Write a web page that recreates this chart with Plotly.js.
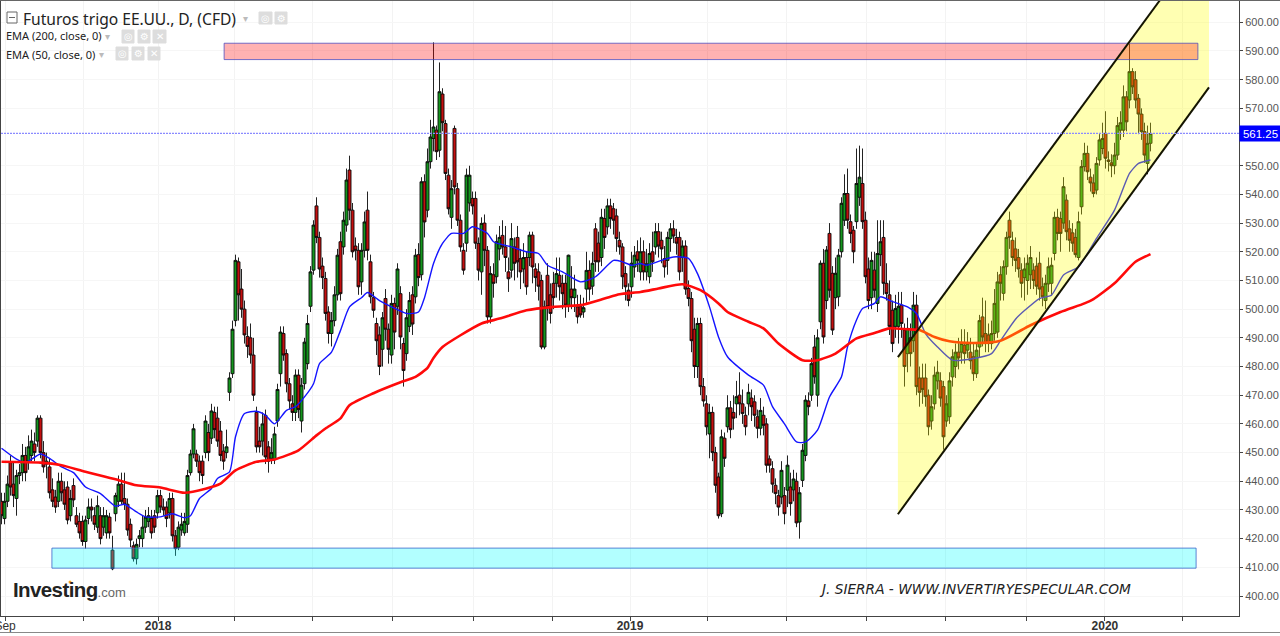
<!DOCTYPE html>
<html><head><meta charset="utf-8">
<script src="https://cdn.plot.ly/plotly-3.0.1.min.js"></script>
<style>html,body{margin:0;padding:0;background:#fff;overflow:hidden}#c{width:1280px;height:636px}</style>
</head><body><div id="c"></div>
<script>
const opens=[
433,427,433,446.5,439,434,442,443,449,447,
449,453,454,462,450,446,445,437,434.5,433,
440,437,438,428,438.5,428,426,426,419,427,
431,428,424,428,424,422,427.5,416,428.7,433,
439,434,432,425,417.5,413,420,420,424,426,
427,428,429,435,431,431,429,434,421,417,
423,422,425,443,449.5,449.5,447,447,450,457,
455,464,462,457.5,450.5,450,471,477.5,496,516.5,
507,500,490.5,490,484,464,454,454,463,452,
448,447.5,461,477.5,491.5,484.5,474,467,464,477,
461,474,481,501,513.6,536,525,515,510.7,499,
491.5,496,505,523.5,521.7,529.3,548.5,534.5,522,520.5,
509.5,520.5,534.5,516.5,504,495,491,486,503.7,493,
484,502,501,505.4,488,484.5,494,505,504.3,519,
512,544.4,534.5,551.4,559.5,562.4,555.4,575,564.7,546.7,
532,563,542,531,520.5,523,537,538.6,538.6,522.9,
513,530,520.5,497.3,512,511.3,521,525.7,521.7,513,
513.6,521.7,525,517.6,514,518,518,525.8,514,513,
510,486.8,511.8,505,509,509,511.8,509,509,501.4,
507,504,500.8,501,499,507,513.5,508,528,523,
518,531.6,528.7,536,535,532.5,524,521.7,512.4,506.6,
507.8,514.7,520,513,520,513,511.3,520,521.7,527,
524,517.6,517,524.6,528,525,525,518,522,507.2,
503.7,493,480,495,473,467,456.5,464,450,441.5,
428.7,455,459,465.6,464,467,470,467,463,467,
469,467.7,462.5,458.5,463,460,447.8,444.4,438.6,435,
434.5,435,436.9,438,437,440,425.8,440.3,449,468,
470,486.8,470,495.6,516,503,526.4,512.5,504,504.3,
520,531,540.3,530.5,527.5,530.5,539,543.8,531,514,
504,513.6,502,519,525,509,505,499.6,494,494,
501.4,492.7,484.5,490,489,501.4,476,476,476,470,
461,467,475,475,473,461,462.5,476.4,480,485,
485,487.4,485.7,485,483.4,477.5,486.8,497.3,491.5,491,
488,491.5,492,512,505.5,514.8,531,524,521,518,
513.6,511,510,512,513.6,515,516,507.8,503,508.8,
509,519.4,532,531.6,530,538,528,526.6,525,518,
535.7,549.7,554.3,546,544,541.5,552,556,561.3,552,
551,550,553.7,562.4,562.4,574,572.9,582.8,580,573.5,
568,561.9,550.8,557.8];
const closes=[
428,433,439,438,435,442,443,449,443,452,
454,450,462,450,445,447,436,433,431,440,
436,432,426.5,434,433.5,425,422,419,426.5,431,
430,425,431.5,420,428,428,422,409.5,435,439,
433,432,423,419.5,413,418,421,424,427.5,428,
422,424,435,431,430,427,434,421,416.5,424,
425,426,442,449.5,458.3,447,443,442,461,450,
464.5,458,454,449,447,452,476,493,517,505,
500,491,487,484,470,452,452,460,448.5,447,
450,456.5,472,492,484,474,468,464,477,465,
473.5,488.5,495,513,529.3,525,514,511,498.5,491.5,
496,505,518.8,505.4,531,545,534.5,520,520.5,507.8,
520.5,530.4,520.5,504.3,499.6,489,480,497,493,486,
502,492,514,490.3,478.6,497,503,494.8,518.8,511,
544.4,530.4,551.4,560,563.5,554.9,575.8,565,547.3,535,
542,542.6,531,521.7,513.6,546.7,546.7,536,523,513.6,
529.9,520.5,497.3,512.4,509,523.5,525,521.7,518,510.6,
524.6,516,516.5,513,518,507.8,525.8,514.7,511,508,
486.8,500.8,500.8,498.5,504,512.4,507.8,505.4,501.4,518.8,
504,507,497.3,498,500.5,513.5,507,516,516.5,516.5,
532,525,536,531.6,531,524.6,521.7,511.3,507.8,503,
516,518.8,517,520,513,515.8,519.4,516.5,527,522,
521,514.7,525,528,525.5,523,513,522,507,503.7,
489,480,495,473,468,459,464,450,438.6,428,
455.5,448,465.6,458,462,469.5,467,463.6,459,471,
466,463,458.5,464.7,459.5,445.6,445.6,439,435.7,431,
443.8,428.7,445.6,432.2,440.8,425.5,436,450.8,468.3,466,
481,476.4,490,516,490.3,520.6,506.6,492.7,512.5,518.8,
536.9,540.3,531,526.4,520,543.8,546,530.5,511.3,503,
517,506.6,519.4,523.5,509,505.4,494,488,500.2,501,
495,480,493.3,484.5,501.4,473,471,472,469.5,459,
466,477,478,469,455.5,467,475,483.4,485,483,
488,484.5,488,482,477.5,485.7,496,490.3,488,488,
491.5,502,509.5,509,514.8,525,525,518,517,514,
509,514,516,518,510,508,507,504.3,509,514.8,
515.3,532,526.4,526.4,542.7,527,524,523,519,530.5,
549.7,554.3,547.9,544,540.3,550.8,559,559.5,552.6,551.5,
550,553.7,564,565,574,565.3,582.8,577.5,572.9,568,
561.9,553.7,557.8,561.25];
const highs=[
436,436,442,449,447,444,446,453,452,456,
458,457,463,463,454,450,448,441,437,443,
443,440,440,437,441,431,429,428,428,434,
434,431,435,431,431,430,429,421,436,442,
443,443,434,427,419,420,423,428,430,431,
430,430,437,437,434,433,436,436,423,426,
429,429,444,451,460,451,449,449,463,460,
467,466,466,461,453,458,478,496,519,518,
514,503,494,495,490,466,459,464,465,454,
455,459,474,494,494,486,476,470,479,479,
476,490,498,515,531,539,527,518,513,501,
499,508,521,527,534,549,553.5,537,525,523,
523,534,541,519,506,497,494,499,507,495,
505,504,516,508,490,500,506,508,521,523,
546,547,556,566,593,564,586,577,566,549,
545,564,544,533,523,549,550,541,541,525,
532,533,522,515,516,526,529,531,529,518,
530,525,529,521,523,520,527,527,516,516,
512,503,516,509,513,518,518,512,512,519,
515,512,505,505,504,520,517,520,530,527,
535,535,538.5,538.5,537,535,527,523,515,509,
520,522,524,525,524,521,523,527,530,530,
527,522,527,530,531,528,527,524,524,510,
506,497,497,497,476,470,467,466,452,443,
458,457,470,468,470,475,478,472,466,474,
472,470,465,469,466,462,449,447,441,437,
447,438,449,443,444,443,438,453,470,471,
483,491,493,517,521,522,530,515,518,521,
539,547,549,533,529,556,557,556,534,518,
520,520,531,531,531,516,510,503,505,506,
506,495,497,495,506,505,480,481,481,472,
470,480,482,478,475,470,478,486,488,490,
493,493,492,490,488,488,498,504,503,495,
496,507,513,515,517,527,534,527,525,521,
516,518,519,522,516,518,520,511,512,518,
518,534,535,534,546,540,531,530,528,534,
552,558,557,549,547,553,561,565,569,555,
554,558,567,569,578,576,592.5,584,583,575,
570,565,564,565];
const lows=[
425,425,431,435,431,428,439,440,440,444,
447,447,452,448,443,441,434,431,429,431,
433,430,425,426,431,424,420,417.5,416.5,425,
426,423,422,418,421,420,420,409,426,431,
432,430,421,417,412,411,417,417,422,424,
420,422,427,429,428,424,427,419,414,416,
421,421,422,442,448,445,440,439,448,447,
453,455,452,447,444,448,468,476,494,496,
497,488,483,481,468,450,450,449,446,443,
446,446,459,473,482,471,465,461,461,462,
457,472,479,499,512,523,511,507,496,488,
487,494,503,503,519,527,531,518,517,505,
505,518,517,502,497,484,477,480,489,481,
481,486,498,486,473,482,492,491,502,508,
510,525,532,549,555,552,553,562,545,533,
528,540,529,520,512,520,534,533,521,510,
505,515,495,495,504,509,517,519,513,506,
511,510,511,507,509,505,515,509,506,503,
486,486,496,495,500,504,503,500,497,499,
500,499,495,497,497,502,503,505,513,513,
515,521,526,528,526,520,519,507,503,501,
504,511,513,510,510,510,509,513,519,518,
516,511,512,520,523,519,510,513,505,501,
485,476,476,470,466,456,448,447,436,427,
427.5,445,457,455,458,462,463,460,456,463,
461,459,455,456,456,443,443,436,432,428,
432,425,431,428,433,424,420,438,447,463,
468,474,466,493,488,500,504,491,500,501,
518,529,528,523,516,528,536,528,509,500,
500,504,499,515,505,503,491,485,490,488,
490,473,478,480,485,470,466,467,466,456,
458,465,472,466,451,459,460,473,476,479,
481,481,483,479,475,476,483,487,485,485,
486,489,490,503,503,512,521,515,513,511,
504,503,505,507,507,505,503,501,500,506,
505,517,524,520,528,524,520,520,518,517,
533,548,545,541,539,540,550,554,549,548,
546,547,552,559,560,562,570,575,570,561,
559,551,547,555];

const ema50Bars=[0,5,8,13,16,20,24,28,33,38,41,45,48,53,57,61,63,66,70,72,76,78,81,85,88,91,95,98,101,104,106,110,113,116,120,122,126,130,135,139,141,144,147,150,154,157,162,164,170,175,179,182,187,193,198,204,207,210,213,215,220,224,229,232,236,239,242,249,254,257,261,265,268,272,276,280,282,285,287,291,293,297,302,305,308,312,317,324,330,333,338,341,346,350,354,359,365,371,376,379,383];
const ema50=[451.5,447.7,446.5,449.5,448,445,443,438,435.7,431.3,432,429.3,427.6,427.6,428.7,427.3,428,434,437.5,441,443.3,455.5,463.6,464.4,463,460,464.7,466,469.4,474,481,485,492.6,500.8,504,505.8,503,500.8,498.5,499,504,515.9,522.9,526.4,526.4,528.7,526.4,523.5,521.7,520,519.4,515.3,513,509.5,511.3,517,516.5,515.3,515.9,515.3,517,518.2,517.7,512.4,500.8,490.3,483.4,477,473.5,466,460,453.7,453.7,457.8,469.4,476.4,486.8,496.2,500.2,502,504.3,502.6,500.8,498.5,491.5,486.8,482.2,482.8,484.5,489,496.5,499.5,503.7,504.9,511.9,514.8,524.7,534.5,547.3,550.8,552];
const ema200Bars=[0,13,20,28,38,45,53,61,68,73,78,85,91,99,105,108,113,116,124,133,138,142,144,147,153,160,166,175,184,193,201,206,213,219,227,233,239,242,249,254,259,267,272,278,285,291,296,302,306,311,316,324,333,343,353,361,364,371,378,383];
const ema200=[446.8,446.5,445.6,443.3,440.7,438.6,437.8,436,437.4,439.2,443.8,446.8,447.6,450.8,456,458.4,461.9,466.5,470.7,474.5,476.4,479.5,483,486.8,490.9,495,496.7,499.6,500.8,501.4,503.7,505.2,506,507.2,508.7,506.6,502,499,495.6,493.3,488,482.2,482.2,484.5,489.8,491.7,493.3,493,492.7,490.3,488.8,488.2,489,494.4,499,502,503.5,509,516.5,519.2];

const tickBars=[1.2,27.2,52.2,77.5,103.5,130.2,157.2,183.8,209.5,235.2,261.8,288.2,314.5,341.5,367.8,393.8];
const tickLabels=['Sep','','<b>2018</b>','','','','','','<b>2019</b>','','','','','','<b>2020</b>',''];
const priceTicks=[400,410,420,430,440,450,460,470,480,490,500,510,520,530,540,550,570,580,590,600];
const lastPrice=561.25;
const resistanceBand={x:[74.2,398.8],y:[587,592.7]};
const supportBand={x:[16.8,398.2],y:[409.7,416.7]};
const channelUpper={x:[298.8,386.2],y:[483.3,607.77]};
const channelLower={x:[298.8,402.5],y:[428.5,577.3]};
const bars=closes.map((_,i)=>i);

const W=1280,H=636,ml=1,mr=41,mt=0,mb=20;
const px=x=>(x-ml)/(W-ml-mr), py=y=>(H-mb-y)/(H-mt-mb);
function box(x0,y0,x1,y1,fill,line){return {type:'rect',xref:'paper',yref:'paper',x0:px(x0),x1:px(x1),y0:py(y0),y1:py(y1),fillcolor:fill,line:{color:line||fill,width:1},layer:'above'};}
function txt(x,y,t,size,color,anchor,extra){return Object.assign({xref:'paper',yref:'paper',x:px(x),y:py(y),xanchor:anchor||'left',yanchor:'middle',text:t,showarrow:false,font:{family:'"Noto Sans",sans-serif',size:size,color:color||'#222'},borderpad:0},extra||{});}

const shapes=[
 {type:'path',xref:'x',yref:'y',layer:'above',line:{width:0},fillcolor:'rgba(255,255,0,0.3)',
  path:`M ${channelLower.x[0]} ${channelLower.y[0]} L ${channelUpper.x[0]} ${channelUpper.y[0]} L ${channelUpper.x[1]} ${channelUpper.y[1]} L ${channelLower.x[1]} ${channelUpper.y[1]} L ${channelLower.x[1]} ${channelLower.y[1]} Z`},
 {type:'rect',xref:'x',yref:'y',layer:'above',x0:resistanceBand.x[0],x1:resistanceBand.x[1],y0:resistanceBand.y[0],y1:resistanceBand.y[1],fillcolor:'rgba(255,0,0,0.3)',line:{color:'rgba(70,70,190,0.75)',width:1}},
 {type:'rect',xref:'x',yref:'y',layer:'above',x0:supportBand.x[0],x1:supportBand.x[1],y0:supportBand.y[0],y1:supportBand.y[1],fillcolor:'rgba(0,255,255,0.3)',line:{color:'rgba(60,100,200,0.8)',width:1}},
 {type:'line',xref:'x',yref:'y',layer:'above',x0:channelUpper.x[0],x1:channelUpper.x[1],y0:channelUpper.y[0],y1:channelUpper.y[1],line:{color:'#141400',width:2}},
 {type:'line',xref:'x',yref:'y',layer:'above',x0:channelLower.x[0],x1:channelLower.x[1],y0:channelLower.y[0],y1:channelLower.y[1],line:{color:'#141400',width:2}},
 {type:'line',xref:'paper',yref:'y',layer:'above',x0:0,x1:1,y0:lastPrice,y1:lastPrice,line:{color:'#8a8aff',width:1.2,dash:'2px,1px'}},
 {type:'line',xref:'paper',yref:'paper',layer:'above',x0:px(0),x1:px(1280),y0:py(0.5),y1:py(0.5),line:{color:'#666',width:1}},
 {type:'line',xref:'paper',yref:'paper',layer:'above',x0:px(0),x1:px(1280),y0:py(632.5),y1:py(632.5),line:{color:'#888',width:1}},
 // legend furniture
 box(7,12,17,23,'#fff','#666'),
 {type:'line',xref:'paper',yref:'paper',layer:'above',x0:px(9),x1:px(15),y0:py(17.5),y1:py(17.5),line:{color:'#666',width:1}},
 box(259,12,272,24,'#ddd'),box(275,12,287,24,'#ddd'),
 box(122,30,134,43,'#ddd'),box(138,30,150,43,'#ddd'),box(153,30,166,43,'#ddd'),
 box(116,47,128,60,'#ddd'),box(132,47,144,60,'#ddd'),box(148,47,160,60,'#ddd'),
 {type:'circle',xref:'paper',yref:'paper',layer:'above',x0:px(68.5),x1:px(71.5),y0:py(580.5),y1:py(583.5),fillcolor:'#f5a623',line:{width:0}}
];

const icon={family:'"DejaVu Sans",sans-serif'};
const glyph=(x,y,t)=>txt(x,y,t,10,'#fff','center',{font:{family:icon.family,size:10,color:'#fff'}});
const annotations=[
 txt(22,18.5,'Futuros trigo EE.UU., D, (CFD)',15.6,'#222'),
 txt(5,36,'EMA (200, close, 0)',11,'#222'),
 txt(5,54,'EMA (50, close, 0)',11,'#222'),
 txt(245,18,'▾',10,'#bbb','center'),txt(107,36,'▾',10,'#bbb','center'),txt(101,54,'▾',10,'#bbb','center'),
 glyph(265.5,18,'◎'),glyph(281,18,'⚙'),
 glyph(128,36.5,'◎'),glyph(144,36.5,'⚙'),glyph(159.5,36.5,'✕'),
 glyph(122,53.5,'◎'),glyph(138,53.5,'⚙'),glyph(154,53.5,'✕'),
 {xref:'paper',yref:'y',x:1,y:lastPrice,xanchor:'left',yanchor:'middle',text:'561.25',showarrow:false,width:41,height:15,bgcolor:'#0000ff',borderpad:0,align:'center',font:{family:'"Liberation Sans",Arial,sans-serif',size:11.5,color:'#fff'}},
 txt(12,589.5,'<span style="letter-spacing:-0.6px"><b>Investing</b></span><span style="font-size:13px;color:#666">.com</span>',20.5,'#222','left',{font:{family:'"Liberation Sans",Arial,sans-serif',size:20.5,color:'#222'}}),
 txt(818,588.5,'<i>J. SIERRA - WWW.INVERTIRYESPECULAR.COM</i>',13.7,'#222','left',{font:{family:'"DejaVu Sans",sans-serif',size:13.7,color:'#222'}})
];

const traces=[
 {type:'candlestick',x:bars,open:opens,high:highs,low:lows,close:closes,whiskerwidth:0,showlegend:false,hoverinfo:'skip',
  increasing:{line:{color:'#0a0a0a',width:0.9},fillcolor:'#14961e'},
  decreasing:{line:{color:'#0a0a0a',width:0.9},fillcolor:'#c40f0f'}},
 {type:'scatter',mode:'lines',x:ema50Bars,y:ema50,line:{color:'#1414ff',width:1.4,shape:'spline',smoothing:0.6},showlegend:false,hoverinfo:'skip'},
 {type:'scatter',mode:'lines',x:ema200Bars,y:ema200,line:{color:'#ff0a0a',width:2.6,shape:'spline',smoothing:0.6},showlegend:false,hoverinfo:'skip'}
];

const layout={
 width:W,height:H,margin:{l:ml,r:mr,t:mt,b:mb,pad:0},paper_bgcolor:'#fff',plot_bgcolor:'#fff',showlegend:false,boxgap:0,boxgroupgap:0,
 xaxis:{type:'linear',range:[-0.17,412.5],rangeslider:{visible:false},tickmode:'array',tickvals:tickBars,ticktext:tickLabels,ticks:'outside',ticklen:4,tickcolor:'#444',ticklabeloverflow:'allow',ticklabelstandoff:-5,tickfont:{family:'"Liberation Sans",Arial,sans-serif',size:12,color:'#333'},showgrid:true,gridcolor:'#f3f3f3',gridwidth:1,showline:true,linecolor:'#444',linewidth:1,zeroline:false,fixedrange:true},
 yaxis:{side:'right',range:[393.03,607.77],tickmode:'array',tickvals:priceTicks,tickformat:'.2f',ticks:'outside',ticklen:3,tickcolor:'#444',tickfont:{family:'"Liberation Sans",Arial,sans-serif',size:11,color:'#555'},showgrid:true,gridcolor:'#f6f6f6',gridwidth:1,showline:true,mirror:true,linecolor:'#444',linewidth:1,zeroline:false,fixedrange:true},
 shapes,annotations
};
Plotly.newPlot('c',traces,layout,{displayModeBar:false,staticPlot:true});
</script></body></html>
